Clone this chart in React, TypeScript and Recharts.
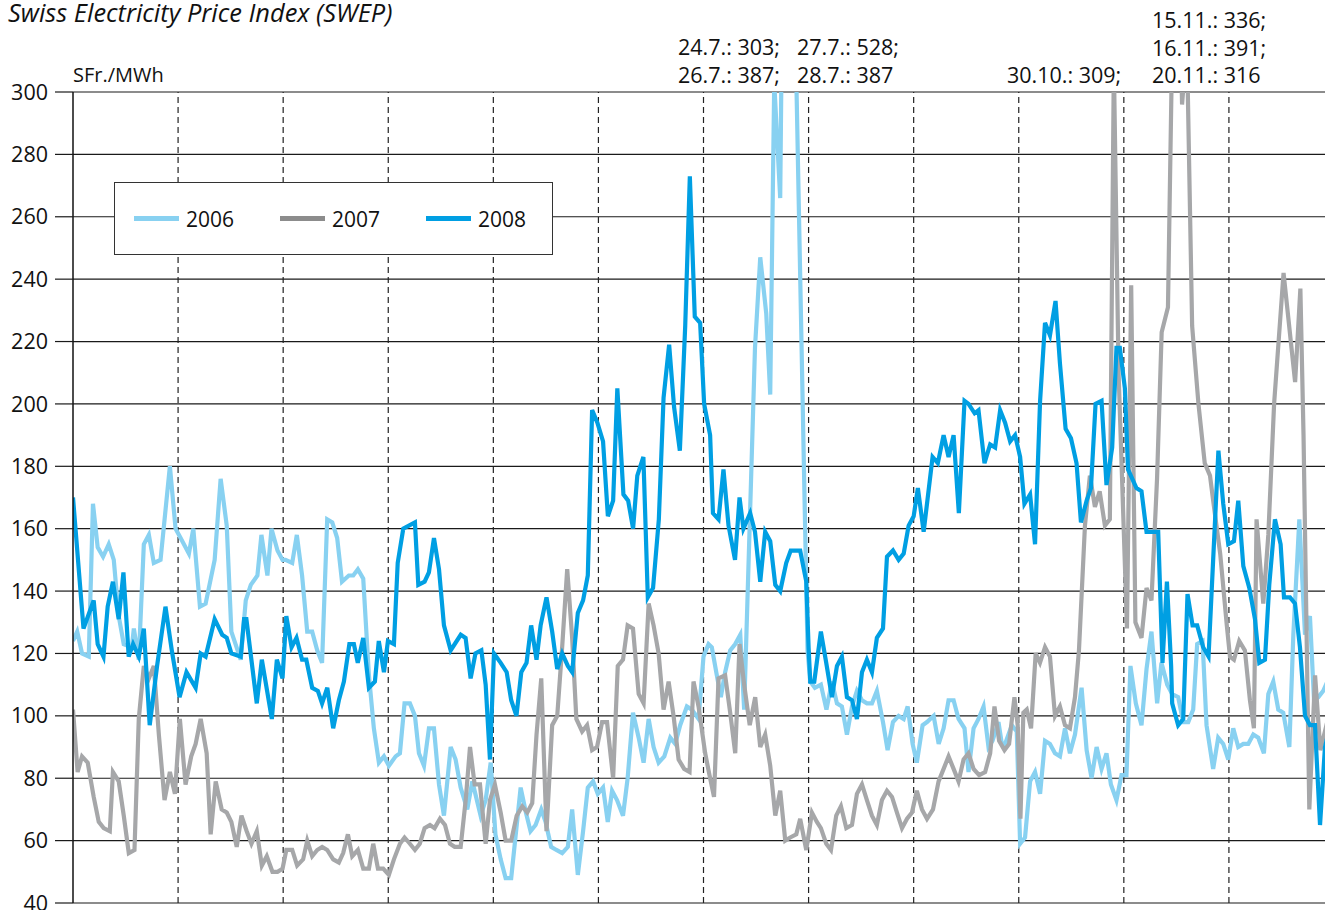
import { LineChart, Line, XAxis, YAxis, CartesianGrid, ReferenceLine, Legend } from 'recharts';

// x = position in months (0 = 1 Jan, 12 = 31 Dec), y = SFr./MWh
const m2006 = [0, 0.04, 0.086, 0.15, 0.19, 0.235, 0.286, 0.34, 0.388, 0.435, 0.483, 0.56, 0.579, 0.626, 0.674, 0.722, 0.769, 0.833, 0.922, 0.976, 1.024, 1.103, 1.145, 1.208, 1.262, 1.348, 1.405, 1.463, 1.507, 1.596, 1.644, 1.692, 1.755, 1.793, 1.85, 1.889, 1.946, 1.994, 2.022, 2.086, 2.13, 2.18, 2.229, 2.276, 2.324, 2.37, 2.419, 2.467, 2.514, 2.56, 2.625, 2.667, 2.711, 2.762, 2.816, 2.863, 2.911, 2.959, 3.006, 3.07, 3.111, 3.155, 3.206, 3.254, 3.292, 3.34, 3.387, 3.435, 3.483, 3.53, 3.594, 3.641, 3.689, 3.752, 3.8, 3.879, 3.927, 3.975, 4.02, 4.07, 4.117, 4.17, 4.26, 4.31, 4.354, 4.402, 4.456, 4.497, 4.55, 4.6, 4.655, 4.709, 4.75, 4.804, 4.854, 4.899, 4.949, 4.994, 5.044, 5.089, 5.13, 5.177, 5.234, 5.278, 5.329, 5.383, 5.43, 5.478, 5.525, 5.573, 5.627, 5.684, 5.731, 5.778, 5.842, 5.889, 5.953, 6.0, 6.048, 6.079, 6.127, 6.165, 6.206, 6.254, 6.302, 6.35, 6.387, 6.444, 6.49, 6.54, 6.597, 6.635, 6.673, 6.73, 6.765, 6.8, 6.835, 6.99, 7.016, 7.06, 7.117, 7.17, 7.222, 7.27, 7.317, 7.365, 7.413, 7.46, 7.508, 7.555, 7.603, 7.65, 7.708, 7.752, 7.803, 7.857, 7.905, 7.943, 7.99, 8.03, 8.085, 8.127, 8.19, 8.238, 8.285, 8.332, 8.38, 8.427, 8.484, 8.522, 8.57, 8.617, 8.665, 8.712, 8.75, 8.807, 8.839, 8.87, 8.934, 8.981, 9.013, 9.06, 9.108, 9.155, 9.203, 9.25, 9.297, 9.345, 9.392, 9.44, 9.487, 9.535, 9.598, 9.646, 9.693, 9.741, 9.788, 9.835, 9.877, 9.93, 9.978, 10.025, 10.063, 10.114, 10.168, 10.216, 10.263, 10.317, 10.358, 10.413, 10.46, 10.517, 10.565, 10.613, 10.66, 10.698, 10.749, 10.787, 10.85, 10.898, 10.946, 10.994, 11.041, 11.089, 11.137, 11.184, 11.232, 11.279, 11.333, 11.375, 11.422, 11.47, 11.517, 11.575, 11.613, 11.67, 11.724, 11.771, 11.81, 11.851, 11.898, 11.95];
const v2006 = [124, 127, 120, 119, 168, 154, 151, 155, 150, 132, 123, 122, 128, 118, 155, 158, 149, 150, 180, 160, 157, 152, 160, 135, 136, 150, 176, 161, 127, 118, 137, 142, 145, 158, 145, 160, 153, 150, 150, 149, 158, 145, 127, 127, 121, 117, 163, 162, 157, 143, 145, 145, 147, 144, 113, 96, 85, 87, 84, 87, 88, 104, 104, 100, 88, 84, 96, 96, 78, 68, 90, 86, 77, 70, 79, 68, 73, 85, 62, 54, 48, 48, 77, 69, 63, 65, 70, 66, 58, 57, 56, 58, 70, 49, 63, 77, 79, 75, 77, 66, 76, 73, 68, 80, 101, 93, 85, 99, 90, 85, 87, 93, 91, 97, 103, 102, 99, 119, 123, 122, 113, 106, 114, 121, 123, 126, 102, 166, 218, 247, 229, 203, 303, 266, 387, 528, 387, 121, 111, 109, 110, 102, 111, 104, 103, 94, 103, 108, 105, 104, 104, 108, 98, 89, 98, 100, 99, 103, 91, 85, 97, 98, 100, 91, 96, 105, 105, 99, 96, 82, 96, 99, 103, 90, 92, 98, 91, 91, 97, 95, 59, 61, 79, 82, 75, 92, 91, 88, 87, 96, 88, 94, 109, 89, 80, 90, 83, 88, 78, 73, 81, 81, 116, 104, 97, 115, 127, 104, 117, 110, 107, 106, 98, 98, 102, 123, 124, 97, 83, 93, 91, 86, 96, 90, 91, 91, 94, 93, 88, 107, 111, 102, 101, 90, 126, 163, 126, 132, 105, 106, 108, 112];

const m2007 = [0, 0.044, 0.086, 0.14, 0.197, 0.245, 0.292, 0.35, 0.38, 0.435, 0.483, 0.531, 0.585, 0.626, 0.674, 0.722, 0.769, 0.817, 0.871, 0.922, 0.97, 1.017, 1.071, 1.125, 1.167, 1.215, 1.272, 1.31, 1.358, 1.415, 1.463, 1.507, 1.558, 1.603, 1.653, 1.698, 1.749, 1.797, 1.844, 1.898, 1.946, 1.994, 2.03, 2.086, 2.133, 2.19, 2.229, 2.276, 2.324, 2.371, 2.419, 2.476, 2.53, 2.571, 2.616, 2.657, 2.711, 2.762, 2.816, 2.857, 2.902, 2.952, 3.006, 3.054, 3.111, 3.155, 3.206, 3.254, 3.3, 3.346, 3.397, 3.441, 3.492, 3.54, 3.587, 3.632, 3.689, 3.737, 3.778, 3.822, 3.873, 3.927, 3.968, 4.015, 4.07, 4.117, 4.17, 4.222, 4.275, 4.323, 4.37, 4.411, 4.456, 4.506, 4.56, 4.608, 4.655, 4.703, 4.75, 4.79, 4.845, 4.892, 4.94, 4.987, 5.035, 5.082, 5.14, 5.184, 5.234, 5.278, 5.329, 5.383, 5.43, 5.478, 5.525, 5.573, 5.62, 5.668, 5.715, 5.763, 5.816, 5.867, 5.905, 5.953, 6.016, 6.057, 6.1, 6.143, 6.206, 6.254, 6.302, 6.343, 6.387, 6.44, 6.492, 6.54, 6.587, 6.635, 6.683, 6.73, 6.778, 6.825, 6.883, 6.92, 6.978, 7.032, 7.079, 7.117, 7.168, 7.213, 7.263, 7.308, 7.359, 7.413, 7.46, 7.508, 7.555, 7.603, 7.65, 7.698, 7.746, 7.794, 7.841, 7.889, 7.937, 7.984, 8.03, 8.079, 8.127, 8.184, 8.237, 8.285, 8.332, 8.38, 8.427, 8.475, 8.522, 8.57, 8.623, 8.68, 8.728, 8.769, 8.813, 8.864, 8.908, 8.959, 8.99, 9.016, 9.044, 9.076, 9.117, 9.161, 9.202, 9.25, 9.297, 9.345, 9.392, 9.44, 9.487, 9.535, 9.573, 9.63, 9.677, 9.725, 9.77, 9.82, 9.867, 9.905, 9.95, 10.03, 10.07, 10.11, 10.168, 10.216, 10.263, 10.316, 10.36, 10.42, 10.47, 10.5, 10.554, 10.6, 10.65, 10.71, 10.77, 10.82, 10.854, 10.917, 10.98, 11.01, 11.048, 11.098, 11.152, 11.2, 11.238, 11.263, 11.327, 11.375, 11.43, 11.52, 11.63, 11.68, 11.71, 11.765, 11.82, 11.87, 11.95];
const v2007 = [102, 82, 87, 85, 74, 66, 64, 63, 82, 79, 68, 56, 57, 99, 116, 112, 116, 94, 73, 82, 75, 99, 78, 87, 91, 99, 88, 62, 79, 70, 69, 66, 58, 68, 63, 59, 63, 52, 55, 50, 50, 51, 57, 57, 52, 54, 60, 55, 57, 58, 57, 54, 53, 56, 62, 55, 57, 51, 51, 59, 51, 51, 49, 54, 59, 61, 59, 57, 59, 64, 65, 64, 67, 65, 59, 58, 58, 73, 90, 78, 78, 59, 73, 78, 69, 60, 60, 68, 71, 69, 72, 94, 112, 63, 97, 100, 122, 147, 125, 99, 95, 97, 89, 90, 98, 98, 80, 116, 118, 129, 128, 107, 104, 136, 129, 120, 102, 111, 100, 86, 83, 82, 111, 103, 88, 81, 74, 112, 113, 101, 88, 123, 110, 97, 106, 90, 94, 84, 68, 76, 60, 61, 62, 67, 57, 69, 66, 64, 59, 57, 68, 71, 64, 65, 75, 78, 73, 68, 65, 73, 76, 74, 69, 64, 67, 69, 76, 70, 67, 70, 79, 83, 87, 83, 79, 86, 88, 83, 81, 82, 88, 103, 92, 89, 91, 106, 97, 67, 101, 102, 96, 120, 117, 122, 119, 100, 103, 97, 96, 106, 121, 161, 177, 167, 172, 161, 163, 309, 210, 128, 238, 130, 125, 141, 137, 176, 223, 231, 336, 391, 296, 316, 225, 200, 181, 177, 168, 152, 129, 119, 118, 124, 121, 105, 96, 163, 136, 158, 200, 242, 207, 237, 190, 70, 113, 89, 100];

const m2008 = [0, 0.1, 0.197, 0.235, 0.29, 0.33, 0.38, 0.435, 0.48, 0.53, 0.572, 0.626, 0.674, 0.73, 0.8, 0.88, 0.94, 1.014, 1.08, 1.167, 1.215, 1.262, 1.348, 1.42, 1.463, 1.507, 1.596, 1.628, 1.65, 1.749, 1.797, 1.892, 1.94, 1.994, 2.03, 2.08, 2.127, 2.18, 2.22, 2.276, 2.33, 2.37, 2.42, 2.476, 2.53, 2.578, 2.63, 2.673, 2.71, 2.762, 2.816, 2.873, 2.91, 2.959, 2.997, 3.054, 3.09, 3.143, 3.197, 3.254, 3.286, 3.346, 3.387, 3.435, 3.483, 3.53, 3.594, 3.69, 3.736, 3.784, 3.83, 3.886, 3.927, 3.968, 4.006, 4.07, 4.127, 4.17, 4.22, 4.266, 4.316, 4.36, 4.411, 4.45, 4.506, 4.56, 4.608, 4.655, 4.709, 4.75, 4.804, 4.854, 4.899, 4.94, 4.99, 5.044, 5.09, 5.14, 5.18, 5.238, 5.283, 5.33, 5.37, 5.428, 5.47, 5.52, 5.575, 5.62, 5.673, 5.72, 5.775, 5.826, 5.87, 5.917, 5.968, 6.006, 6.063, 6.09, 6.143, 6.19, 6.238, 6.3, 6.343, 6.38, 6.444, 6.49, 6.54, 6.587, 6.635, 6.683, 6.73, 6.787, 6.83, 6.92, 6.978, 7.0, 7.016, 7.054, 7.117, 7.168, 7.222, 7.27, 7.317, 7.365, 7.413, 7.46, 7.508, 7.555, 7.603, 7.65, 7.708, 7.746, 7.803, 7.857, 7.905, 7.952, 8.0, 8.04, 8.095, 8.18, 8.23, 8.285, 8.332, 8.38, 8.43, 8.484, 8.522, 8.58, 8.617, 8.674, 8.728, 8.775, 8.823, 8.87, 8.918, 8.965, 9.013, 9.054, 9.108, 9.155, 9.203, 9.25, 9.297, 9.35, 9.392, 9.446, 9.497, 9.55, 9.592, 9.646, 9.687, 9.731, 9.788, 9.835, 9.889, 9.93, 9.962, 10.01, 10.04, 10.12, 10.168, 10.216, 10.327, 10.368, 10.41, 10.45, 10.46, 10.517, 10.565, 10.606, 10.654, 10.698, 10.755, 10.806, 10.85, 10.9, 10.946, 10.994, 11.048, 11.089, 11.137, 11.194, 11.248, 11.289, 11.343, 11.384, 11.438, 11.492, 11.524, 11.581, 11.629, 11.676, 11.724, 11.771, 11.819, 11.867, 11.914, 11.95];
const v2008 = [170, 128, 137, 123, 119, 135, 143, 131, 146, 119, 123, 119, 128, 97, 116, 135, 121, 106, 114, 109, 120, 119, 131, 126, 125, 120, 119, 131, 131, 104, 118, 99, 118, 112, 132, 122, 125, 118, 118, 109, 108, 104, 109, 96, 105, 111, 123, 123, 117, 125, 109, 111, 124, 114, 124, 123, 149, 160, 161, 162, 142, 143, 146, 157, 147, 129, 121, 126, 125, 112, 120, 121, 110, 86, 120, 117, 114, 105, 100, 114, 117, 129, 118, 129, 138, 127, 115, 120, 116, 114, 133, 137, 145, 198, 194, 188, 164, 169, 205, 171, 169, 160, 177, 183, 138, 141, 163, 202, 219, 199, 185, 225, 273, 228, 226, 200, 190, 165, 163, 179, 161, 150, 170, 160, 165, 159, 143, 159, 156, 142, 140, 149, 153, 153, 143, 122, 111, 111, 127, 117, 106, 116, 119, 106, 105, 99, 114, 118, 114, 125, 128, 151, 153, 150, 152, 161, 164, 173, 159, 183, 181, 190, 183, 190, 165, 201, 200, 197, 198, 181, 187, 186, 198, 194, 188, 190, 183, 168, 171, 155, 201, 226, 222, 233, 213, 192, 189, 181, 162, 169, 173, 200, 201, 174, 186, 218, 218, 205, 179, 173, 172, 159, 159, 117, 143, 116, 104, 97, 99, 139, 129, 129, 122, 119, 150, 185, 168, 155, 156, 169, 148, 141, 131, 117, 118, 142, 163, 155, 138, 138, 136, 122, 100, 97, 97, 65, 90, 95];

const yTicks = [40, 60, 80, 100, 120, 140, 160, 180, 200, 220, 240, 260, 280, 300];
const monthLines = [1, 2, 3, 4, 5, 6, 7, 8, 9, 10, 11];

const seriesNames = ['2006', '2007', '2008'];
const seriesColors = ['#88d1f1', '#a6a7a9', '#009fe3'];
const legendColors = ['#88d1f1', '#8c8c8c', '#009fe3'];

const toData = (m: number[], v: number[]) => m.map((x, i) => ({ m: x, v: v[i] }));
const seriesData = [toData(m2006, v2006), toData(m2007, v2007), toData(m2008, v2008)];

const FONT = '"Open Sans", "Noto Sans", sans-serif';

// top notes for the clipped peaks
const notes = [
  { left: 678, top: 33, lines: ['24.7.: 303;', '26.7.: 387;'] },
  { left: 797, top: 33, lines: ['27.7.: 528;', '28.7.: 387'] },
  { left: 1007, top: 61, lines: ['30.10.: 309;'] },
  { left: 1152, top: 6, lines: ['15.11.: 336;', '16.11.: 391;', '20.11.: 316'] },
];

function LegendBox() {
  return (
    <div
      style={{
        width: 439,
        height: 73,
        boxSizing: 'border-box',
        border: '1.5px solid #333',
        background: '#fff',
        display: 'flex',
        alignItems: 'center',
        paddingLeft: 19,
        fontFamily: FONT,
        fontSize: 21,
        color: '#111',
      }}
    >
      {seriesNames.map((n, i) => (
        <div key={n} style={{ display: 'flex', alignItems: 'center', width: 146, flexShrink: 0 }}>
          <div style={{ width: 45, height: 5, background: legendColors[i], marginRight: 7 }} />
          <span>{n}</span>
        </div>
      ))}
    </div>
  );
}

export default function App() {
  return (
    <div style={{ position: 'absolute', left: 0, top: 0, width: 1325, height: 910, overflow: 'hidden', background: '#fff' }}>
      <div style={{ position: 'absolute', left: 8, top: 0, fontFamily: FONT, fontStyle: 'italic', fontSize: 25.4, lineHeight: '25px', color: '#111', whiteSpace: 'nowrap' }}>
        Swiss Electricity Price Index (SWEP)
      </div>
      <div style={{ position: 'absolute', left: 73, top: 61, fontFamily: FONT, fontSize: 20, color: '#111', lineHeight: '28px' }}>
        SFr./MWh
      </div>
      {notes.map((n) => (
        <div
          key={n.left}
          style={{ position: 'absolute', left: n.left, top: n.top, fontFamily: FONT, fontSize: 21.5, color: '#111', lineHeight: '27.5px', whiteSpace: 'nowrap' }}
        >
          {n.lines.map((l) => (
            <div key={l}>{l}</div>
          ))}
        </div>
      ))}
      <LineChart width={1345} height={960} margin={{ top: 92, right: 11, bottom: 57, left: 13 }}>
        <CartesianGrid vertical={false} stroke="#1a1a1a" strokeWidth={1.2} />
        <XAxis dataKey="m" type="number" domain={[0, 12]} hide allowDataOverflow />
        <YAxis
          type="number"
          domain={[40, 300]}
          ticks={yTicks}
          allowDataOverflow
          width={60}
          tickSize={18}
          tickMargin={7}
          axisLine={{ stroke: '#111', strokeWidth: 1.5 }}
          tickLine={{ stroke: '#1a1a1a', strokeWidth: 1.2 }}
          tick={{ fill: '#111', fontSize: 21.5, fontFamily: FONT }}
        />
        {monthLines.map((x) => (
          <ReferenceLine key={x} x={x} stroke="#222" strokeWidth={1.2} strokeDasharray="6 4" />
        ))}
        <Legend
          layout="horizontal"
          verticalAlign="middle"
          align="center"
          wrapperStyle={{ left: 114, top: 182, width: 439, height: 73 }}
          content={() => <LegendBox />}
        />
        {seriesNames.map((n, i) => (
          <Line
            key={n}
            name={n}
            data={seriesData[i]}
            dataKey="v"
            type="linear"
            stroke={seriesColors[i]}
            strokeWidth={4.2}
            dot={false}
            activeDot={false}
            isAnimationActive={false}
          />
        ))}
      </LineChart>
    </div>
  );
}
